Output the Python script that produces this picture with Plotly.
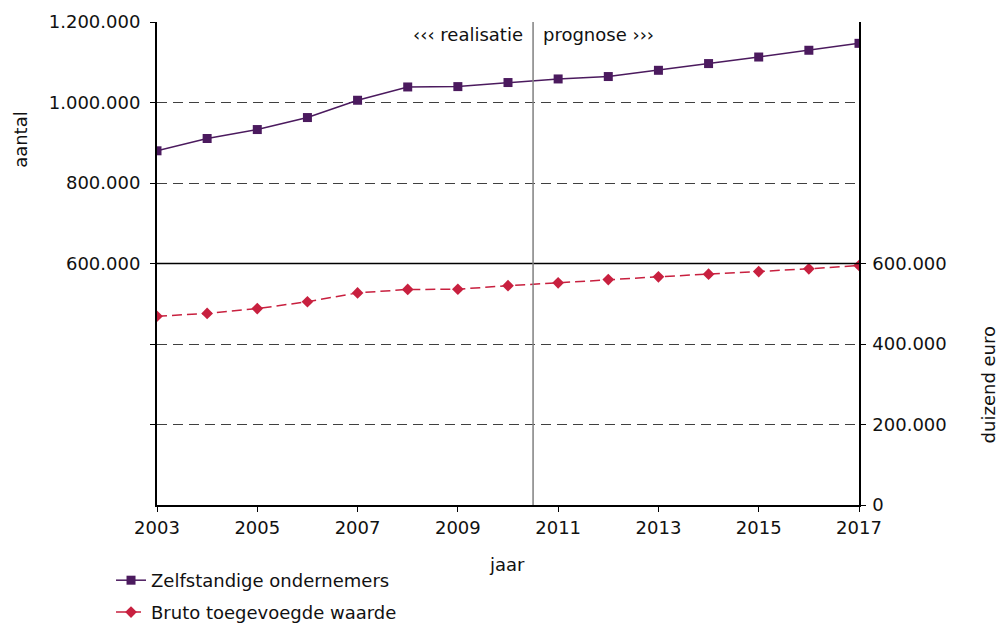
import plotly.graph_objects as go

years = list(range(2003, 2018))
zelfstandigen = [880000, 910500, 932800, 962600, 1005600, 1038600, 1039500, 1049600,
                 1058500, 1064500, 1080000, 1096700, 1113000, 1129800, 1147000]
bruto_tw = [469000, 476000, 488000, 505000, 527000, 535500, 536000, 545000,
            552000, 560000, 567000, 573600, 580000, 586800, 595000]

left_tickvals = [200000, 400000, 600000, 800000, 1000000, 1200000]
left_ticktext = ["", "", "600.000", "800.000", "1.000.000", "1.200.000"]
right_tickvals = [0, 200000, 400000, 600000]
right_ticktext = ["0", "200.000", "400.000", "600.000"]
x_tickvals = [2003, 2005, 2007, 2009, 2011, 2013, 2015, 2017]
split_year = 2010.5

FONT = "DejaVu Sans, Verdana, sans-serif"
PURPLE = "#4b1a5e"
RED = "#c8203f"
TEXT = "#111111"

fig = go.Figure()
fig.add_trace(go.Scatter(
    x=years, y=zelfstandigen, name="Zelfstandige ondernemers", yaxis="y",
    mode="lines+markers", line=dict(color=PURPLE, width=1.5),
    marker=dict(symbol="square", size=9, color=PURPLE), legend="legend"))
fig.add_trace(go.Scatter(
    x=years, y=bruto_tw, name="Bruto toegevoegde waarde", yaxis="y2",
    mode="lines+markers", line=dict(color=RED, width=1.5, dash="10px,5px"),
    marker=dict(symbol="diamond", size=9, color=RED), legend="legend2"))

fig.update_layout(
    width=998, height=625,
    margin=dict(l=157, r=139, t=22, b=120, autoexpand=False),
    paper_bgcolor="white", plot_bgcolor="white",
    font=dict(family=FONT, size=18, color=TEXT),
    showlegend=True,
    xaxis=dict(range=[2003, 2017], tickvals=x_tickvals, ticks="outside", ticklen=5,
               tickcolor="black", showgrid=False, zeroline=False, showline=True,
               linecolor="black", linewidth=2, tickfont=dict(size=18), automargin=False),
    yaxis=dict(range=[0, 1200000], tickvals=left_tickvals, ticktext=left_ticktext,
               ticks="outside", ticklen=5, tickcolor="black", showgrid=True,
               gridcolor="#404040", griddash="10px,6px", gridwidth=1, zeroline=False,
               showline=True, linecolor="black", linewidth=2, automargin=False,
               ticklabelstandoff=6),
    yaxis2=dict(range=[0, 1200000], tickvals=right_tickvals, ticktext=right_ticktext,
                overlaying="y", side="right", ticks="outside", ticklen=5,
                tickcolor="black", showgrid=False, zeroline=False, showline=True,
                linecolor="black", linewidth=1.5, automargin=False,
                ticklabelstandoff=3),
    legend=dict(x=-0.0655, y=-0.118, xanchor="left", yanchor="top",
                font=dict(size=18), bgcolor="rgba(0,0,0,0)"),
    legend2=dict(x=-0.0655, y=-0.184, xanchor="left", yanchor="top",
                 font=dict(size=18), bgcolor="rgba(0,0,0,0)"),
    shapes=[
        dict(type="line", xref="paper", x0=0, x1=1, yref="y", y0=600000, y1=600000,
             line=dict(color="black", width=1.5)),
        dict(type="line", xref="x", x0=split_year, x1=split_year, yref="paper", y0=0, y1=1,
             line=dict(color="#808080", width=1.5)),
    ],
    annotations=[
        dict(text="‹‹‹ realisatie", x=split_year, xref="x", y=1, yref="paper",
             xanchor="right", yanchor="top", xshift=-8, showarrow=False),
        dict(text="prognose ›››", x=split_year, xref="x", y=1, yref="paper",
             xanchor="left", yanchor="top", xshift=8, showarrow=False),
        dict(text="aantal", x=-0.1937, xref="paper", y=0.756, yref="paper",
             textangle=-90, showarrow=False, xanchor="center", yanchor="middle"),
        dict(text="duizend euro", x=1.184, xref="paper", y=0.248, yref="paper",
             textangle=-90, showarrow=False, xanchor="center", yanchor="middle"),
        dict(text="jaar", x=0.4986, xref="paper", y=-0.124, yref="paper",
             showarrow=False, xanchor="center", yanchor="middle"),
    ],
)

fig.write_html("out.html",
               config={"displayModeBar": False},
               post_script="document.body.style.margin='0';document.body.style.overflow='hidden';")
